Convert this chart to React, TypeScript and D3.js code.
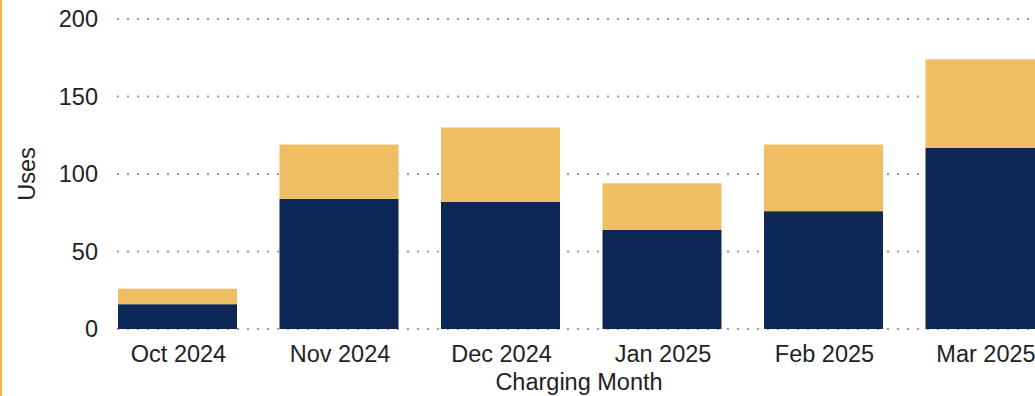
import React from "react";
import * as d3 from "d3";

const months = ["Oct 2024", "Nov 2024", "Dec 2024", "Jan 2025", "Feb 2025", "Mar 2025"];
const darkValues = [16, 84, 82, 64, 76, 117];
const lightValues = [10, 35, 48, 30, 43, 57];
const yTicks = [0, 50, 100, 150, 200];
const seriesKeys = ["dark", "light"];
const seriesColors = ["#0d2857", "#f0be62"];

const W = 1035;
const H = 396;

export default function App() {
  const rows = months.map((m, i) => ({ month: m, dark: darkValues[i], light: lightValues[i] }));
  const stack = d3.stack<any>().keys(seriesKeys)(rows);

  const x = d3
    .scaleBand<string>()
    .domain(months)
    .range([96.75, 96.75 + 6 * 161.5])
    .paddingInner(0.263)
    .paddingOuter(0.1315);
  const y = d3.scaleLinear().domain([0, 200]).range([329, 19]);

  const font = "'Liberation Sans', Arial, sans-serif";

  return (
    <svg
      width={W}
      height={H}
      style={{ position: "absolute", left: 0, top: 0, background: "#fff" }}
      fontFamily={font}
    >
      <line x1={1} x2={1} y1={0} y2={H} stroke="#f0b24a" strokeWidth={2} />
      {yTicks.map((t) => (
        <g key={t}>
          <line
            x1={117}
            x2={W}
            y1={y(t)}
            y2={y(t)}
            stroke="#9a9a9a"
            strokeWidth={2}
            strokeDasharray="2 8"
          />
          <text x={98} y={y(t)} dy="0.35em" textAnchor="end" fontSize={23.5} fill="#222">
            {t}
          </text>
        </g>
      ))}
      {stack.map((s, si) => (
        <g key={s.key} fill={seriesColors[si]}>
          {s.map((d: any, i: number) => (
            <rect
              key={i}
              x={x(months[i])}
              width={x.bandwidth()}
              y={y(d[1])}
              height={y(d[0]) - y(d[1])}
            />
          ))}
        </g>
      ))}
      {months.map((m) => (
        <text
          key={m}
          x={(x(m) as number) + x.bandwidth() / 2 + 1}
          y={362}
          textAnchor="middle"
          fontSize={23.5}
          fill="#222"
        >
          {m}
        </text>
      ))}
      <text x={579} y={390} textAnchor="middle" fontSize={23.5} fill="#222">
        Charging Month
      </text>
      <text
        transform={`translate(35,174) rotate(-90)`}
        textAnchor="middle"
        fontSize={23.5}
        fill="#222"
      >
        Uses
      </text>
    </svg>
  );
}
